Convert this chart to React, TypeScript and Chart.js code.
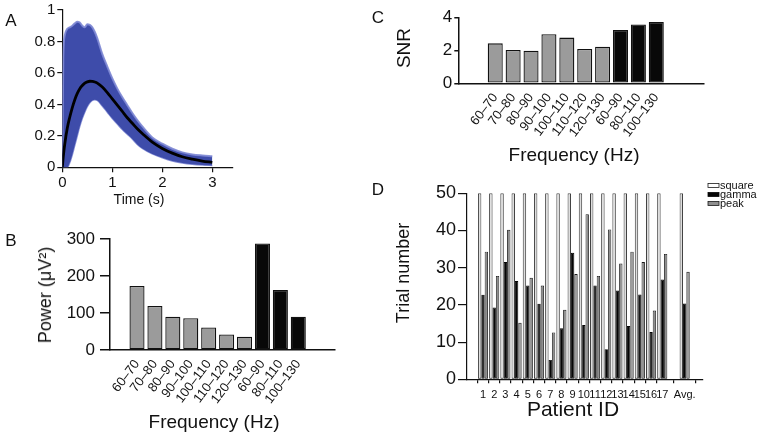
import React, { useEffect, useRef } from 'react';
import { Chart, registerables } from 'chart.js';

Chart.register(...registerables);

const FONT = '"Liberation Sans", Arial, Helvetica, sans-serif';
const INK = '#111111';

// ---------- Panel A: single-trial responses ----------
const timeS = [0, 0.02, 0.05, 0.1, 0.15, 0.2, 0.25, 0.3, 0.35, 0.4, 0.45, 0.5, 0.55, 0.6, 0.65, 0.7, 0.8, 0.9, 1.0, 1.1, 1.2, 1.3, 1.4, 1.5, 1.6, 1.8, 2.0, 2.2, 2.4, 2.6, 2.8, 3.0];
const trialUpper = [0, 0.7, 0.84, 0.88, 0.89, 0.9, 0.915, 0.925, 0.92, 0.9, 0.89, 0.91, 0.905, 0.89, 0.86, 0.82, 0.72, 0.64, 0.565, 0.5, 0.445, 0.395, 0.345, 0.3, 0.26, 0.19, 0.15, 0.118, 0.095, 0.082, 0.075, 0.07];
const trialLower = [0, 0, 0, 0, 0.03, 0.08, 0.14, 0.2, 0.26, 0.31, 0.35, 0.385, 0.41, 0.425, 0.43, 0.425, 0.39, 0.35, 0.31, 0.275, 0.24, 0.21, 0.18, 0.145, 0.12, 0.085, 0.06, 0.04, 0.028, 0.02, 0.015, 0.012];
const trialMean = [0, 0.07, 0.15, 0.25, 0.32, 0.38, 0.43, 0.47, 0.5, 0.52, 0.535, 0.543, 0.547, 0.546, 0.542, 0.535, 0.51, 0.475, 0.435, 0.395, 0.355, 0.315, 0.28, 0.245, 0.215, 0.16, 0.12, 0.09, 0.067, 0.052, 0.04, 0.032];
const timeTicks = [0, 1, 2, 3];
const ampTicks = [0, 0.2, 0.4, 0.6, 0.8, 1];

// ---------- Panels B & C: frequency bands ----------
const bandLabels = ['60–70', '70–80', '80–90', '90–100', '100–110', '110–120', '120–130', '60–90', '80–110', '100–130'];
const bandKind = ['narrow', 'narrow', 'narrow', 'narrow', 'narrow', 'narrow', 'narrow', 'broad', 'broad', 'broad'];
const powerValues = [173, 119, 90, 86, 61, 42, 36, 288, 162, 90];
const powerTicks = [0, 100, 200, 300];
const snrValues = [2.42, 2.02, 1.98, 2.97, 2.77, 2.08, 2.22, 3.23, 3.56, 3.72];
const snrTicks = [0, 2, 4];

// ---------- Panel D: trials per patient ----------
const patientLabels = ['1', '2', '3', '4', '5', '6', '7', '8', '9', '10', '11', '12', '13', '14', '15', '16', '17', '', 'Avg.'];
const squareTrials = [50, 50, 50, 50, 50, 50, 50, 50, 50, 50, 50, 50, 50, 50, 50, 50, 50, null, 50];
const gammaTrials = [22.7, 19.3, 31.5, 26.4, 25.2, 20.3, 5.2, 13.7, 34.0, 14.6, 25.2, 8.1, 23.9, 14.3, 22.8, 12.7, 26.8, null, 20.4];
const peakTrials = [34.3, 27.8, 40.2, 15.2, 27.3, 25.2, 12.6, 18.7, 28.3, 44.4, 27.8, 40.3, 31.1, 34.3, 31.5, 18.5, 33.7, null, 28.9];
const trialTicks = [0, 10, 20, 30, 40, 50];

// ---------- helpers ----------
type Box = { left: number; top: number; width: number; height: number };
type Area = { left: number; top: number; right: number; bottom: number };

function frame(box: Box, area: Area) {
  return {
    padding: { left: 0, top: area.top - box.top, right: box.left + box.width - area.right, bottom: 0 },
    yWidth: area.left - box.left,
    xHeight: box.top + box.height - area.bottom,
  };
}

const zeroPad = (s: any) => {
  s.paddingLeft = 0;
  s.paddingRight = 0;
  s.paddingTop = 0;
  s.paddingBottom = 0;
};

const fmt = (v: number) => String(+Number(v).toFixed(2));

function axis(o: {
  position: 'left' | 'bottom';
  min: number;
  max: number;
  ticks: number[];
  labels?: (v: number) => string;
  size: number;
  tickLen: number;
  pad: number;
  font: number;
  line: number;
  rotation?: number;
}) {
  const horizontal = o.position === 'bottom';
  return {
    type: 'linear',
    position: o.position,
    min: o.min,
    max: o.max,
    afterBuildTicks: (s: any) => {
      s.ticks = o.ticks.map((v) => ({ value: v }));
    },
    afterFit: (s: any) => {
      if (horizontal) s.height = o.size;
      else s.width = o.size;
      zeroPad(s);
    },
    ticks: {
      autoSkip: false,
      padding: o.pad,
      color: INK,
      font: { family: FONT, size: o.font },
      maxRotation: o.rotation ?? 0,
      minRotation: o.rotation ?? 0,
      callback: (v: number) => (o.labels ? o.labels(v) : fmt(v)),
    },
    grid: {
      display: true,
      drawOnChartArea: false,
      drawTicks: o.tickLen > 0,
      tickLength: o.tickLen,
      color: INK,
      lineWidth: o.line,
    },
    border: { display: true, color: INK, width: o.line },
  };
}

function baseOptions(padding: any, scales: any, extraPlugins: any = {}) {
  return {
    responsive: false,
    maintainAspectRatio: false,
    animation: false,
    events: [],
    layout: { padding, autoPadding: false },
    plugins: { legend: { display: false }, tooltip: { enabled: false }, ...extraPlugins },
    scales,
  };
}

const cornerLegend = {
  id: 'cornerLegend',
  afterDraw(chart: any, _args: any, opts: any) {
    if (!opts || !opts.display) return;
    const ctx = chart.ctx;
    ctx.save();
    ctx.font = `${opts.fontSize}px ${FONT}`;
    ctx.textBaseline = 'middle';
    ctx.textAlign = 'left';
    chart.data.datasets.forEach((ds: any, i: number) => {
      const y = opts.y + i * opts.rowStep;
      ctx.fillStyle = ds.label === 'square' ? '#ffffff' : ds.backgroundColor;
      ctx.fillRect(opts.x, y - opts.boxH / 2, opts.boxW, opts.boxH);
      ctx.strokeStyle = ds.borderColor;
      ctx.lineWidth = 0.8;
      ctx.strokeRect(opts.x, y - opts.boxH / 2, opts.boxW, opts.boxH);
      ctx.fillStyle = INK;
      ctx.fillText(ds.label, opts.x + opts.boxW + 1, y);
    });
    ctx.restore();
  },
};

// ---------- panel geometry ----------
const boxA: Box = { left: 0, top: 0, width: 250, height: 215 };
const areaA: Area = { left: 62.3, top: 10, right: 233, bottom: 167.3 };
const boxB: Box = { left: 0, top: 215, width: 345, height: 222 };
const areaB: Area = { left: 110, top: 239, right: 335, bottom: 350 };
const boxC: Box = { left: 380, top: 0, width: 382, height: 170 };
const areaC: Area = { left: 458.3, top: 17.3, right: 704, bottom: 83.3 };
const boxD: Box = { left: 380, top: 170, width: 382, height: 267 };
const areaD: Area = { left: 467, top: 193.3, right: 703, bottom: 379.3 };

const BAR_GREY = '#9b9b9b';
const BAR_BLACK = '#080808';

function makeA() {
  const f = frame(boxA, areaA);
  const pts = (vals: number[]) => timeS.map((t, i) => ({ x: t, y: vals[i] }));
  const lineBase = { pointRadius: 0, pointHoverRadius: 0, cubicInterpolationMode: 'monotone' };
  return {
    type: 'line',
    data: {
      datasets: [
        { ...lineBase, label: 'mean', data: pts(trialMean), borderColor: '#000', borderWidth: 2.8, fill: false },
        {
          ...lineBase,
          label: 'upper',
          data: pts(trialUpper),
          borderColor: 'rgba(125,135,212,0.9)',
          borderWidth: 2,
          backgroundColor: 'rgb(62,76,170)',
          fill: '+1',
        },
        { ...lineBase, label: 'lower', data: pts(trialLower), borderColor: 'rgba(125,135,212,0.9)', borderWidth: 1.5, fill: false },
      ],
    },
    options: baseOptions(f.padding, {
      x: axis({ position: 'bottom', min: 0, max: (areaA.right - areaA.left) / 50, ticks: timeTicks, size: f.xHeight, tickLen: 5, pad: 2, font: 15, line: 1.2 }),
      y: axis({ position: 'left', min: 0, max: 1, ticks: ampTicks, size: f.yWidth, tickLen: 5, pad: 2, font: 15, line: 1.2 }),
    }),
  };
}

function makeBands(box: Box, area: Area, values: number[], ticks: number[], xmin: number, xmax: number, yMax: number, tickLen: number, pad: number) {
  const f = frame(box, area);
  return {
    type: 'bar',
    data: {
      datasets: [
        {
          label: 'bands',
          data: values.map((v, i) => ({ x: i, y: v })),
          backgroundColor: bandKind.map((k) => (k === 'broad' ? BAR_BLACK : BAR_GREY)),
          borderColor: INK,
          borderWidth: 1.3,
          borderSkipped: false,
          categoryPercentage: 1,
          barPercentage: 0.84,
        },
      ],
    },
    options: baseOptions(f.padding, {
      x: axis({
        position: 'bottom',
        min: xmin,
        max: xmax,
        ticks: bandLabels.map((_, i) => i),
        labels: (v) => bandLabels[v] ?? '',
        size: f.xHeight,
        tickLen: 0,
        pad: 7,
        font: 13,
        line: 1.5,
        rotation: 53,
      }),
      y: axis({ position: 'left', min: 0, max: yMax, ticks, size: f.yWidth, tickLen, pad, font: 17, line: 1.5 }),
    }),
  };
}

function makeD() {
  const f = frame(boxD, areaD);
  const pts = (vals: (number | null)[]) =>
    vals.map((y, i) => ({ x: i, y })).filter((p) => p.y !== null);
  const barBase = { borderWidth: 0.9, borderSkipped: false, categoryPercentage: 0.9, barPercentage: 1 };
  return {
    type: 'bar',
    data: {
      datasets: [
        { ...barBase, label: 'square', data: pts(squareTrials), backgroundColor: '#dedede', borderColor: '#1a1a1a' },
        { ...barBase, label: 'gamma', data: pts(gammaTrials), backgroundColor: '#050505', borderColor: '#050505' },
        { ...barBase, label: 'peak', data: pts(peakTrials), backgroundColor: '#8f8f8f', borderColor: '#1a1a1a' },
      ],
    },
    plugins: [cornerLegend],
    options: baseOptions(
      f.padding,
      {
        x: axis({
          position: 'bottom',
          min: -0.843,
          max: 19.05,
          ticks: patientLabels.map((l, i) => (l ? i : -1)).filter((i) => i >= 0),
          labels: (v) => patientLabels[v] ?? '',
          size: f.xHeight,
          tickLen: 4,
          pad: 5,
          font: 11,
          line: 1.2,
        }),
        y: axis({ position: 'left', min: 0, max: 50, ticks: trialTicks, size: f.yWidth, tickLen: 9, pad: 2, font: 18, line: 1.2 }),
      },
      { cornerLegend: { display: true, x: 708 - boxD.left, y: 185.5 - boxD.top, rowStep: 9, boxW: 11, boxH: 4, fontSize: 11 } }
    ),
  };
}

function ChartPanel({ box, make }: { box: Box; make: () => any }) {
  const ref = useRef<HTMLCanvasElement>(null);
  useEffect(() => {
    const chart = new Chart(ref.current as HTMLCanvasElement, make());
    return () => chart.destroy();
  }, []);
  return (
    <canvas
      ref={ref}
      width={box.width}
      height={box.height}
      style={{ position: 'absolute', left: box.left, top: box.top, width: box.width, height: box.height }}
    />
  );
}

function Txt({ x, y, size, rotate, children }: { x: number; y: number; size: number; rotate?: boolean; children: React.ReactNode }) {
  return (
    <div
      style={{
        position: 'absolute',
        left: x,
        top: y,
        fontFamily: FONT,
        fontSize: size,
        lineHeight: 1,
        color: INK,
        whiteSpace: 'nowrap',
        transform: `translate(-50%, -50%)${rotate ? ' rotate(-90deg)' : ''}`,
      }}
    >
      {children}
    </div>
  );
}

export default function App() {
  return (
    <div style={{ position: 'absolute', left: 0, top: 0, width: 762, height: 437, background: '#fff', overflow: 'hidden' }}>
      <ChartPanel box={boxA} make={makeA} />
      <ChartPanel
        box={boxB}
        make={() => makeBands(boxB, areaB, powerValues, powerTicks, -0.879, 10.42, 300, 10, 5)}
      />
      <ChartPanel
        box={boxC}
        make={() => makeBands(boxC, areaC, snrValues, snrTicks, -1.378, 10.98, 4, 4, 2)}
      />
      <ChartPanel box={boxD} make={makeD} />

      <Txt x={11} y={20} size={17}>A</Txt>
      <Txt x={11} y={240} size={17}>B</Txt>
      <Txt x={378} y={17} size={17}>C</Txt>
      <Txt x={378} y={189} size={17}>D</Txt>

      <Txt x={139} y={199} size={14}>Time (s)</Txt>
      <Txt x={45} y={295} size={18} rotate>
        Power (μV²)
      </Txt>
      <Txt x={214} y={421} size={19}>Frequency (Hz)</Txt>
      <Txt x={403} y={48} size={19} rotate>
        SNR
      </Txt>
      <Txt x={574} y={154} size={19}>Frequency (Hz)</Txt>
      <Txt x={403} y={273} size={18} rotate>
        Trial number
      </Txt>
      <Txt x={573} y={408} size={21}>Patient ID</Txt>
    </div>
  );
}
